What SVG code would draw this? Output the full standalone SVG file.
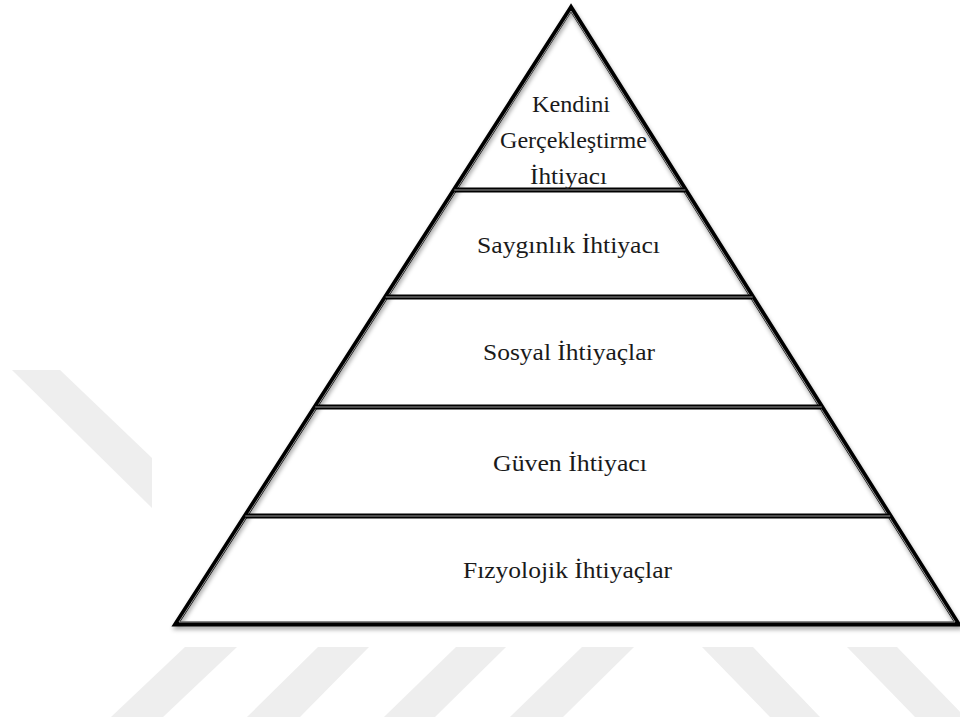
<svg xmlns="http://www.w3.org/2000/svg" width="960" height="717" viewBox="0 0 960 717">
  <defs>
    <filter id="shadow" x="-5%" y="-5%" width="110%" height="115%">
      <feDropShadow dx="1" dy="3" stdDeviation="2" flood-color="#000" flood-opacity="0.35"/>
    </filter>
  </defs>
  <style>
    .wm { fill: #eeeeee; }
    .outer { stroke: #000; stroke-width: 5; fill: none; stroke-linejoin: miter; }
    .inner { stroke: #9a9a9a; stroke-width: 1; fill: none; }
    .lbl { font-family: "Liberation Serif", "Times New Roman", serif; font-size: 24px; fill: #1a1a1a; text-anchor: middle; }
  </style>
  <rect width="960" height="717" fill="#ffffff"/>

  <!-- watermark stripes -->
  <g id="watermark">
    <polygon class="wm" points="12,370 60,370 152,458 152,508"/>
    <polygon class="wm" points="185,647 237,647 163,717 111,717"/>
    <polygon class="wm" points="318,647 369,647 300,717 247,717"/>
    <polygon class="wm" points="456,647 506,647 435,717 384,717"/>
    <polygon class="wm" points="582,647 634,647 563,717 510,717"/>
    <polygon class="wm" points="702,647 753,647 820,717 770,717"/>
    <polygon class="wm" points="847,647 897,647 965,717 915,717"/>
  </g>

  <!-- pyramid body -->
  <g id="pyramid-body" filter="url(#shadow)">
    <polygon points="571,8 176,624 958,624" fill="#ffffff" class="outer"/>
  </g>

  <g id="connectors">
    <polygon class="inner" points="571,11 179,622 955,622"/>
    <line class="outer" x1="454.3" y1="190" x2="685.3" y2="190"/>
    <line class="inner" x1="454.3" y1="190" x2="685.3" y2="190"/>
    <line class="outer" x1="385.7" y1="297" x2="752.6" y2="297"/>
    <line class="inner" x1="385.7" y1="297" x2="752.6" y2="297"/>
    <line class="outer" x1="315.2" y1="407" x2="821.7" y2="407"/>
    <line class="inner" x1="315.2" y1="407" x2="821.7" y2="407"/>
    <line class="outer" x1="245.3" y1="516" x2="890.1" y2="516"/>
    <line class="inner" x1="245.3" y1="516" x2="890.1" y2="516"/>
  </g>

  <g id="level-5">
    <text class="lbl" x="571" y="112" textLength="78" lengthAdjust="spacingAndGlyphs">Kendini</text>
    <text class="lbl" x="573.5" y="148" textLength="147" lengthAdjust="spacingAndGlyphs">Gerçekleştirme</text>
    <text class="lbl" x="568.5" y="184" textLength="77" lengthAdjust="spacingAndGlyphs">İhtiyacı</text>
  </g>
  <g id="level-4">
    <text class="lbl" x="568.5" y="253" textLength="183" lengthAdjust="spacingAndGlyphs">Saygınlık İhtiyacı</text>
  </g>
  <g id="level-3">
    <text class="lbl" x="569" y="360" textLength="172" lengthAdjust="spacingAndGlyphs">Sosyal İhtiyaçlar</text>
  </g>
  <g id="level-2">
    <text class="lbl" x="570" y="471" textLength="154" lengthAdjust="spacingAndGlyphs">Güven İhtiyacı</text>
  </g>
  <g id="level-1">
    <text class="lbl" x="567.5" y="578" textLength="209" lengthAdjust="spacingAndGlyphs">Fızyolojik İhtiyaçlar</text>
  </g>
</svg>
